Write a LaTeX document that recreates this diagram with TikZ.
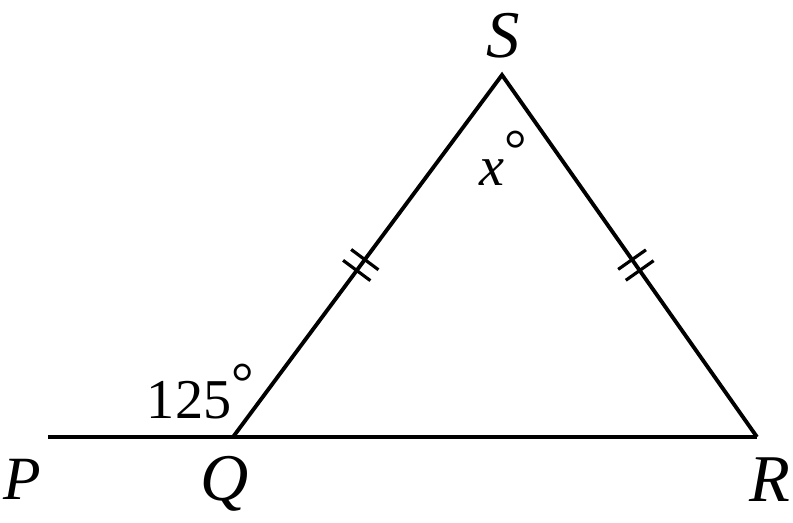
\documentclass[tikz,border=0pt]{standalone}
\usepackage{fontspec}
\setmainfont{Liberation Serif}
\usetikzlibrary{calc}

\begin{document}
\begin{tikzpicture}[line width=2.2pt, lbl/.style={inner sep=0pt, anchor=base}, big/.style={font=\fontsize{38}{40}\selectfont\itshape}]
\useasboundingbox (0,0) rectangle (15.86,10.44);

\coordinate (P0) at (0.96,1.70);
\coordinate (Q) at (4.66,1.70);
\coordinate (R) at (15.14,1.70);
\coordinate (S) at (10.04,8.94);

\draw (P0) -- (R);
\draw[line join=miter] (Q) -- (S) -- (R);

% ticks
\coordinate (a1) at ($(Q)!0.46!(S)$);
\coordinate (a2) at ($(Q)!0.49!(S)$);
\coordinate (b1) at ($(S)!0.51!(R)$);
\coordinate (b2) at ($(S)!0.54!(R)$);
\foreach \t/\e in {a1/S,a2/S,b1/R,b2/R}
  \draw[line width=1.8pt] ($(\t)!0.34cm!90:(\e)$) -- ($(\t)!0.34cm!-90:(\e)$);

\node (lp) at (0.44,0.46) [lbl,font=\fontsize{35}{37}\selectfont\itshape]{P};
\node (lq) at (4.50,0.44) [lbl,big]{Q};
\node (lr) at (15.40,0.42) [lbl,big]{R};
\node (ls) at (10.07,9.30) [lbl,big]{S};
\node (la) at (2.90,2.08) [lbl,anchor=base west,font=\fontsize{32}{34}\selectfont]{125\raisebox{.3em}{°}};
\node (lx) at (9.56,6.74) [lbl,anchor=base west,font=\fontsize{32}{34}\selectfont]{\textit{x}\raisebox{.3em}{°}};

\end{tikzpicture}
\end{document}
